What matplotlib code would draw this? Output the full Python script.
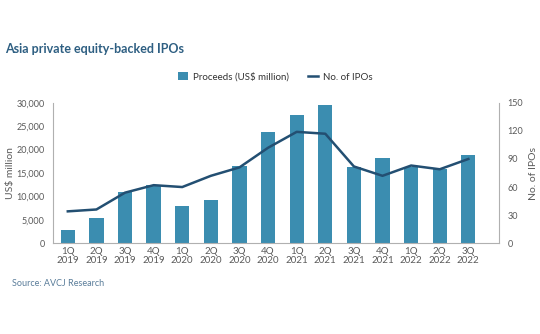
import matplotlib
matplotlib.use("Agg")
import matplotlib.pyplot as plt
from matplotlib.lines import Line2D
from matplotlib.patches import Patch

quarters = ["1Q\n2019", "2Q\n2019", "3Q\n2019", "4Q\n2019", "1Q\n2020", "2Q\n2020", "3Q\n2020",
            "4Q\n2020", "1Q\n2021", "2Q\n2021", "3Q\n2021", "4Q\n2021", "1Q\n2022", "2Q\n2022", "3Q\n2022"]
proceeds = [2800, 5300, 10900, 12500, 7900, 9300, 16400, 23800, 27400, 29500, 16300, 18300, 16300, 15800, 18800]
ipos = [34, 36, 54, 62, 60, 72, 81, 102, 119, 117, 82, 72, 83, 79, 90]
left_ticks = [0, 5000, 10000, 15000, 20000, 25000, 30000]
right_ticks = [0, 30, 60, 90, 120, 150]

plt.rcParams['font.family'] = ['Lato', 'DejaVu Sans']

bar_color = "#3b8db0"
line_color = "#234f72"
grey = "#5a5a5a"
spine_grey = "#b0b0b0"

fig = plt.figure(figsize=(5.4, 3.34), dpi=100)
ax = fig.add_axes([0.098, 0.272, 0.826, 0.42])
x = list(range(len(quarters)))
ax.bar(x, proceeds, width=0.5, color=bar_color, zorder=2)
ax.set_ylim(0, 30000)
ax.set_xlim(-0.52, 15.07)
ax.set_yticks(left_ticks)
ax.set_yticklabels([f"{v:,}" for v in left_ticks])
ax.set_xticks(x)
ax.set_xticklabels(quarters, linespacing=1.0)
ax.set_ylabel("US$ million", fontsize=7.5, color=grey)
ax.yaxis.set_label_coords(-0.085, 0.5)

ax2 = ax.twinx()
ax2.plot(x, ipos, color=line_color, lw=1.8, zorder=3)
ax2.set_ylim(0, 150)
ax2.set_yticks(right_ticks)
ax2.set_ylabel("No. of IPOs", fontsize=7.5, color=grey)
ax2.yaxis.set_label_coords(1.068, 0.5)

for a in (ax, ax2):
    for s in a.spines.values():
        s.set_visible(False)
    a.tick_params(length=0, labelsize=6.5, colors=grey, pad=6)
ax.tick_params(axis='x', labelsize=7, pad=3)
ax.spines['left'].set_visible(True)
ax.spines['left'].set_color(spine_grey)
ax.spines['bottom'].set_visible(True)
ax.spines['bottom'].set_color(spine_grey)
ax2.spines['right'].set_visible(True)
ax2.spines['right'].set_color(spine_grey)

fig.text(0.010, 0.842, "Asia private equity-backed IPOs", fontsize=9, fontweight='bold',
         color="#2e5f82")

handles = [Patch(facecolor=bar_color, edgecolor='none'),
           Line2D([0], [0], color=line_color, lw=1.8)]
fig.legend(handles, ["Proceeds (US$ million)", "No. of IPOs"], loc='center',
           bbox_to_anchor=(0.51, 0.77), ncol=2, frameon=False, fontsize=7,
           handlelength=1.0, handleheight=0.8, columnspacing=2.0, handletextpad=0.5,
           labelcolor="#333333")

fig.text(0.022, 0.145, "Source: AVCJ Research", fontsize=6.5, color="#5a7d9a")

fig.savefig("out.png", dpi=100)
